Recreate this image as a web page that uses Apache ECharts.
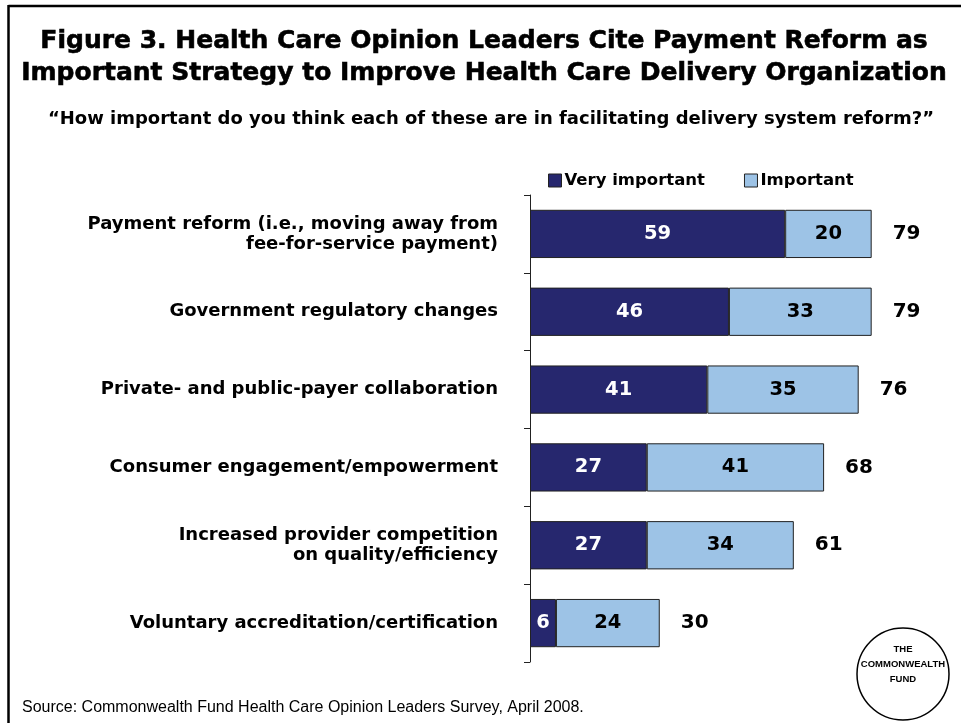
<!DOCTYPE html>
<html>
<head>
<meta charset="utf-8">
<script src="https://cdn.jsdelivr.net/npm/echarts@6/dist/echarts.min.js"></script>
<style>
html,body{margin:0;padding:0;background:#fff;}
#c{width:961px;height:723px;}
</style>
</head>
<body>
<div id="c"></div>
<script>
const categories = [
  "Payment reform (i.e., moving away from\nfee-for-service payment)",
  "Government regulatory changes",
  "Private- and public-payer collaboration",
  "Consumer engagement/empowerment",
  "Increased provider competition\non quality/efficiency",
  "Voluntary accreditation/certification"
];
const veryImportant = [59, 46, 41, 27, 27, 6];
const important = [20, 33, 35, 41, 34, 24];
const totals = [79, 79, 76, 68, 61, 30];
const seriesNames = ["Very important", "Important"];

const H = "'DejaVu Sans', sans-serif";
const F = "'Liberation Sans', Arial, sans-serif";
const chart = echarts.init(document.getElementById('c'), null, {renderer: 'canvas'});
chart.setOption({
  animation: false,
  backgroundColor: '#fff',
  title: [
    {
      text: "Figure 3. Health Care Opinion Leaders Cite Payment Reform as\nImportant Strategy to Improve Health Care Delivery Organization",
      left: 484, top: 25, textAlign: 'center', padding: 0,
      textStyle: {fontFamily: H, fontWeight: 'bold', fontSize: 25, lineHeight: 32, color: '#000',
        textBorderColor: '#000', textBorderWidth: 0.6}
    },
    {
      text: "\u201CHow important do you think each of these are in facilitating delivery system reform?\u201D",
      left: 491, top: 110, textAlign: 'center', padding: 0,
      textStyle: {fontFamily: H, fontWeight: 'bold', fontSize: 18, color: '#000'}
    },
    {
      text: "Source: Commonwealth Fund Health Care Opinion Leaders Survey, April 2008.",
      left: 22, top: 700, padding: 0,
      textStyle: {fontFamily: F, fontWeight: 'normal', fontSize: 16, color: '#000'}
    }
  ],
  legend: {
    data: seriesNames,
    left: 543, top: 167,
    icon: 'rect', itemWidth: 13, itemHeight: 13, itemGap: 39,
    textStyle: {fontFamily: H, fontWeight: 'bold', fontSize: 16.5, color: '#000', padding: [0,0,0,-2]},
    itemStyle: {borderColor: '#222', borderWidth: 1}
  },
  grid: {left: 530, right: 85, top: 195, bottom: 61, containLabel: false},
  xAxis: {type: 'value', min: 0, max: 80, show: false},
  yAxis: {
    type: 'category', data: categories, inverse: true,
    axisLine: {show: true, lineStyle: {color: '#222', width: 1}},
    axisTick: {show: true, length: 6, lineStyle: {color: '#222'}},
    axisLabel: {fontFamily: H, fontWeight: 'bold', fontSize: 18, lineHeight: 20, color: '#000', margin: 32, align: 'right'}
  },
  series: [
    {
      name: seriesNames[0], type: 'bar', stack: 'a', data: veryImportant,
      barCategoryGap: '38%',
      itemStyle: {color: '#26276e', borderColor: '#222', borderWidth: 1},
      label: {show: true, position: 'inside', color: '#fff', fontFamily: H, fontWeight: 'bold', fontSize: 19.5}
    },
    {
      name: seriesNames[1], type: 'bar', stack: 'a', data: important,
      itemStyle: {color: '#9dc3e6', borderColor: '#222', borderWidth: 1},
      label: {show: true, position: 'inside', color: '#000', fontFamily: H, fontWeight: 'bold', fontSize: 19.5}
    },
    {
      name: 'Total', type: 'bar', data: totals, barGap: '-100%', z: 1,
      itemStyle: {color: 'rgba(0,0,0,0)'},
      label: {show: true, position: 'right', distance: 21, color: '#000', fontFamily: H, fontWeight: 'bold', fontSize: 20},
      silent: true
    }
  ],
  graphic: [
    {type: 'line', shape: {x1: 8.5, y1: 6, x2: 961, y2: 6}, style: {stroke: '#000', lineWidth: 2.5}},
    {type: 'line', shape: {x1: 8.5, y1: 5, x2: 8.5, y2: 723}, style: {stroke: '#000', lineWidth: 2.5}},
    {type: 'circle', shape: {cx: 903, cy: 674, r: 46}, style: {fill: '#fff', stroke: '#000', lineWidth: 1.5}},
    {type: 'text', x: 903, y: 664, style: {text: 'THE\nCOMMONWEALTH\nFUND', fontFamily: F, fontWeight: 'bold', fontSize: 9.5, lineHeight: 15, fill: '#000', align: 'center', verticalAlign: 'middle'}}
  ]
});
</script>
</body>
</html>
